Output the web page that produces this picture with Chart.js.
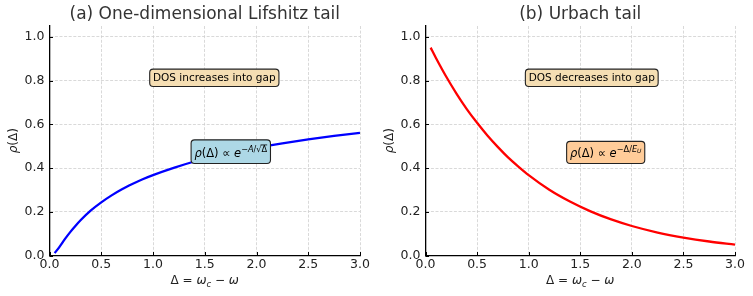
<!DOCTYPE html>
<html>
<head>
<meta charset="utf-8">
<script src="https://cdn.jsdelivr.net/npm/chart.js@4.4.1/dist/chart.umd.min.js"></script>
<style>
  html, body { margin: 0; padding: 0; background: #fff; }
  .row { display: flex; width: 753px; height: 296px; }
  .cell { position: relative; height: 296px; }
</style>
</head>
<body>
<div class="row">
  <div class="cell" style="width:376px"><canvas id="lifshitz"></canvas></div>
  <div class="cell" style="width:377px"><canvas id="urbach"></canvas></div>
</div>
<script>
// values
const deltaLifshitz = [0.05, 0.1, 0.15, 0.2, 0.25, 0.3, 0.4, 0.5, 0.6, 0.7, 0.8, 0.9, 1.0, 1.2, 1.4, 1.6, 1.8, 2.0, 2.25, 2.5, 2.75, 3.0];
const rhoLifshitz = [0.011, 0.042, 0.076, 0.107, 0.135, 0.161, 0.206, 0.243, 0.275, 0.303, 0.327, 0.349, 0.368, 0.401, 0.430, 0.454, 0.475, 0.493, 0.513, 0.531, 0.547, 0.561];
const deltaUrbach = [0.05, 0.1, 0.2, 0.3, 0.4, 0.5, 0.6, 0.7, 0.8, 0.9, 1.0, 1.2, 1.4, 1.6, 1.8, 2.0, 2.25, 2.5, 2.75, 3.0];
const rhoUrbach = [0.951, 0.905, 0.819, 0.741, 0.670, 0.607, 0.549, 0.497, 0.449, 0.407, 0.368, 0.301, 0.247, 0.202, 0.165, 0.135, 0.105, 0.082, 0.064, 0.050];
const xTicks = [0, 0.5, 1.0, 1.5, 2.0, 2.5, 3.0];
const yTicks = [0, 0.2, 0.4, 0.6, 0.8, 1.0];

const FONT = '"DejaVu Sans", sans-serif';

function font(size, italic) {
  return (italic ? 'italic ' : '') + size + 'px ' + FONT;
}

// draw a run of text pieces (for the math labels), returns total width
function drawRich(ctx, segs, x, y, align, dryRun) {
  let w = 0;
  segs.forEach(function(s) {
    ctx.font = font(s.size, s.it);
    s.w = ctx.measureText(s.t).width;
    w += s.w;
  });
  if (dryRun) return w;
  let cx = align === 'center' ? x - w / 2 : x;
  ctx.textAlign = 'left';
  ctx.textBaseline = 'alphabetic';
  segs.forEach(function(s) {
    ctx.font = font(s.size, s.it);
    ctx.fillText(s.t, cx, y + (s.dy || 0));
    if (s.over) {
      ctx.save();
      ctx.lineWidth = 0.8;
      ctx.strokeStyle = ctx.fillStyle;
      ctx.beginPath();
      const top = y + (s.dy || 0) - s.size * 0.82;
      ctx.moveTo(cx - 1, top);
      ctx.lineTo(cx + s.w, top);
      ctx.stroke();
      ctx.restore();
    }
    cx += s.w;
  });
  return w;
}

function roundRect(ctx, x, y, w, h, r) {
  ctx.beginPath();
  ctx.moveTo(x + r, y);
  ctx.lineTo(x + w - r, y);
  ctx.quadraticCurveTo(x + w, y, x + w, y + r);
  ctx.lineTo(x + w, y + h - r);
  ctx.quadraticCurveTo(x + w, y + h, x + w - r, y + h);
  ctx.lineTo(x + r, y + h);
  ctx.quadraticCurveTo(x, y + h, x, y + h - r);
  ctx.lineTo(x, y + r);
  ctx.quadraticCurveTo(x, y, x + r, y);
  ctx.closePath();
}

const xLabelSegs = [
  { t: 'Δ = ', size: 12 },
  { t: 'ω', size: 12, it: true },
  { t: 'c', size: 8.5, it: true, dy: 2.5 },
  { t: ' − ', size: 12 },
  { t: 'ω', size: 12, it: true }
];
const yLabelSegs = [
  { t: 'ρ', size: 12, it: true },
  { t: '(Δ)', size: 12 }
];

const decorPlugin = {
  id: 'decor',
  afterDraw(chart) {
    const o = chart.options.plugins.decor;
    const ctx = chart.ctx;
    const area = chart.chartArea;
    const xs = chart.scales.x, ys = chart.scales.y;
    const midX = (area.left + area.right) / 2;
    ctx.save();

    // inward tick marks
    ctx.strokeStyle = '#000';
    ctx.lineWidth = 1;
    ctx.beginPath();
    xTicks.forEach(function(v) {
      const p = Math.round(xs.getPixelForValue(v)) + 0.5;
      ctx.moveTo(p, area.bottom);
      ctx.lineTo(p, area.bottom - 3.5);
    });
    yTicks.forEach(function(v) {
      const p = Math.round(ys.getPixelForValue(v)) + 0.5;
      ctx.moveTo(area.left, p);
      ctx.lineTo(area.left + 3.5, p);
    });
    ctx.stroke();

    // title
    ctx.fillStyle = '#333';
    ctx.font = font(17);
    ctx.textAlign = 'center';
    ctx.textBaseline = 'middle';
    ctx.fillText(o.title, midX, 15);

    // axis titles
    ctx.fillStyle = '#222';
    drawRich(ctx, xLabelSegs, midX, 284, 'center');
    ctx.save();
    ctx.translate(17, (area.top + area.bottom) / 2);
    ctx.rotate(-Math.PI / 2);
    drawRich(ctx, yLabelSegs, 0, 0, 'center');
    ctx.restore();

    // text boxes
    o.boxes.forEach(function(b) {
      const px = xs.getPixelForValue(b.x);
      const py = ys.getPixelForValue(b.y);
      const w = drawRich(ctx, b.segs, px, py, 'left', true);
      const pad = 3.3;
      roundRect(ctx, px - pad, py - b.up - pad, w + 2 * pad, b.up + b.down + 2 * pad, 3.5);
      ctx.fillStyle = b.bg;
      ctx.fill();
      ctx.lineWidth = 1.1;
      ctx.strokeStyle = '#222';
      ctx.stroke();
      ctx.fillStyle = '#000';
      drawRich(ctx, b.segs, px, py, 'left');
    });
    ctx.restore();
  }
};

function makeChart(canvasId, xs, ys, color, title, boxes, rightPad) {
  const ctx = document.getElementById(canvasId);
  return new Chart(ctx, {
    type: 'line',
    data: {
      datasets: [{
        data: xs.map(function(x, i) { return { x: x, y: ys[i] }; }),
        borderColor: color,
        borderWidth: 2.3,
        pointRadius: 0,
        fill: false,
        cubicInterpolationMode: 'monotone'
      }]
    },
    options: {
      responsive: true,
      maintainAspectRatio: false,
      animation: false,
      layout: { padding: { top: 26, right: rightPad, left: 0, bottom: 0 } },
      plugins: {
        legend: { display: false },
        tooltip: { enabled: false },
        decor: { title: title, boxes: boxes }
      },
      scales: {
        x: {
          type: 'linear',
          min: 0,
          max: 3,
          afterFit: function(s) { s.height = 40.5; },
          afterBuildTicks: function(s) { s.ticks = xTicks.map(function(v) { return { value: v }; }); },
          ticks: {
            padding: 2,
            color: '#222',
            font: { family: FONT, size: 12.5 },
            maxRotation: 0,
            callback: function(v) { return v.toFixed(1); }
          },
          grid: { color: '#cfcfcf', lineWidth: 0.8, drawTicks: false },
          border: { display: true, color: '#000', width: 1.3, dash: [3, 1.6] }
        },
        y: {
          min: 0,
          max: 1.05,
          afterFit: function(s) { s.width = 49.5; },
          afterBuildTicks: function(s) { s.ticks = yTicks.map(function(v) { return { value: v }; }); },
          ticks: {
            padding: 5,
            color: '#222',
            font: { family: FONT, size: 12.5 },
            callback: function(v) { return v.toFixed(1); }
          },
          grid: { color: '#cfcfcf', lineWidth: 0.8, drawTicks: false },
          border: { display: true, color: '#000', width: 1.3, dash: [3, 1.6] }
        }
      }
    },
    plugins: [decorPlugin]
  });
}

makeChart('lifshitz', deltaLifshitz, rhoLifshitz, '#0000ff', '(a) One-dimensional Lifshitz tail', [
  { x: 1.0, y: 0.8, bg: '#f5deb3', up: 8.2, down: 2.6,
    segs: [{ t: 'DOS increases into gap', size: 10.5 }] },
  { x: 1.4, y: 0.45, bg: '#add8e6', up: 14, down: 3,
    segs: [
      { t: 'ρ', size: 11.5, it: true },
      { t: '(Δ) ∝ ', size: 11.5 },
      { t: 'e', size: 11.5, it: true },
      { t: '−', size: 8.2, dy: -5.5 },
      { t: 'A', size: 8.2, it: true, dy: -5.5 },
      { t: '/√', size: 8.2, dy: -5.5 },
      { t: 'Δ', size: 8.2, dy: -5.5, over: true }
    ] }
], 16);

makeChart('urbach', deltaUrbach, rhoUrbach, '#ff0000', '(b) Urbach tail', [
  { x: 1.0, y: 0.8, bg: '#f5deb3', up: 8.2, down: 2.6,
    segs: [{ t: 'DOS decreases into gap', size: 10.5 }] },
  { x: 1.4, y: 0.45, bg: '#ffcc99', up: 12.5, down: 3,
    segs: [
      { t: 'ρ', size: 11.5, it: true },
      { t: '(Δ) ∝ ', size: 11.5 },
      { t: 'e', size: 11.5, it: true },
      { t: '−Δ/', size: 8.2, dy: -5.5 },
      { t: 'E', size: 8.2, it: true, dy: -5.5 },
      { t: 'U', size: 6, it: true, dy: -4 }
    ] }
], 18);
</script>
</body>
</html>
